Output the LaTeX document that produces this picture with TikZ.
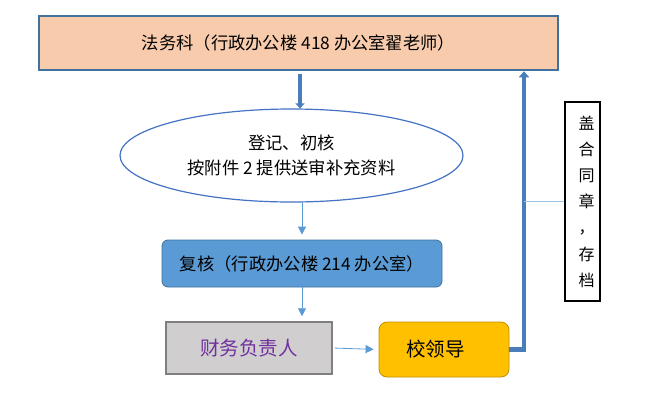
\documentclass[tikz,border=0pt]{standalone}
\usepackage{fontspec}
\setmainfont{Noto Sans CJK SC}
\usetikzlibrary{arrows.meta,shapes.geometric}
\definecolor{peach}{HTML}{F8CBAD}
\definecolor{bdblue}{HTML}{41719C}
\definecolor{ellblue}{HTML}{4472C4}
\definecolor{midblue}{HTML}{5B9BD5}
\definecolor{thickblue}{HTML}{4A7EBB}
\definecolor{lightblue}{HTML}{9DC3E6}
\definecolor{boxgray}{HTML}{D0CECE}
\definecolor{edgegray}{HTML}{7F7F7F}
\definecolor{purpletext}{HTML}{7030A0}
\definecolor{gold}{HTML}{FFC000}
\definecolor{golddark}{HTML}{BF9000}
\tikzset{
  thinarrow/.style={draw=midblue, line width=0.8pt, -{Triangle[width=8pt,length=8pt]}, shorten >=5pt},
  thickarrow/.style={draw=thickblue, line width=4.5pt, -{Triangle[width=10pt,length=6pt]}},
  boxtext/.style={font=\fontsize{17.3}{20.5}\selectfont, inner sep=0pt, align=center},
  bigtext/.style={font=\fontsize{19.5}{24}\selectfont, inner sep=0pt, align=center}
}
\begin{document}
\begin{tikzpicture}[x=1pt,y=-1pt]
\useasboundingbox (0,0) rectangle (648,397);
\fill[white] (0,0) rectangle (648,397);
\node[boxtext, draw=bdblue, fill=peach, line width=1.5pt, minimum width=519pt, minimum height=54pt] (fawu) at (298.5,43) {\raisebox{1pt}{法务科（行政办公楼 418 办公室翟老师）}};
\node[boxtext, ellipse, draw=ellblue, line width=1.2pt, minimum width=343pt, minimum height=93pt] (ell) at (291.5,155.5) {登记、初核\\[4.5pt]按附件 2 提供送审补充资料};
\node[boxtext, draw=bdblue, fill=midblue, line width=0.8pt, rounded corners=6pt, minimum width=280pt, minimum height=47pt] (fu) at (302,263.5) {复核（行政办公楼 214 办公室）};
\node[bigtext, text=purpletext, draw=edgegray, fill=boxgray, line width=1.5pt, minimum width=166pt, minimum height=52pt] (cw) at (249,348) {财务负责人};
\node[bigtext, draw=golddark, fill=gold, line width=0.8pt, rounded corners=8pt, minimum width=130pt, minimum height=55pt, text width=130pt] (ld) at (444,349.5) {\hspace*{-17pt}校领导};
\node[draw=black, line width=1.2pt, minimum width=35pt, minimum height=199pt, inner sep=0pt, align=center, font=\fontsize{16}{26.2}\selectfont] (vt) at (582.5,201.5) {\hspace*{8pt}盖\\\hspace*{8pt}合\\\hspace*{8pt}同\\\hspace*{8pt}章\\\hspace*{8pt}，\\\hspace*{8pt}存\\\hspace*{8pt}档};
\coordinate (upx) at (524,0);
% arrows
\draw[thickarrow, -{Triangle[width=9pt,length=5pt]}, shorten <=3pt] (ell.north |- fawu.south) ++(8.5,0) coordinate (dstart) -- (dstart |- ell.north);
\draw[thinarrow] (fu.north |- ell.south) -- (fu.north);
\draw[thinarrow] (fu.south) -- (fu.south |- cw.north);
\draw[thinarrow, shorten <=2pt] (cw.east) -- (ld.west);
\draw[thickarrow, shorten >=0.5pt] (ld.east) -| (upx |- fawu.south);
\draw[lightblue, line width=1pt] (upx |- vt.west) -- (vt.west);
\end{tikzpicture}
\end{document}
